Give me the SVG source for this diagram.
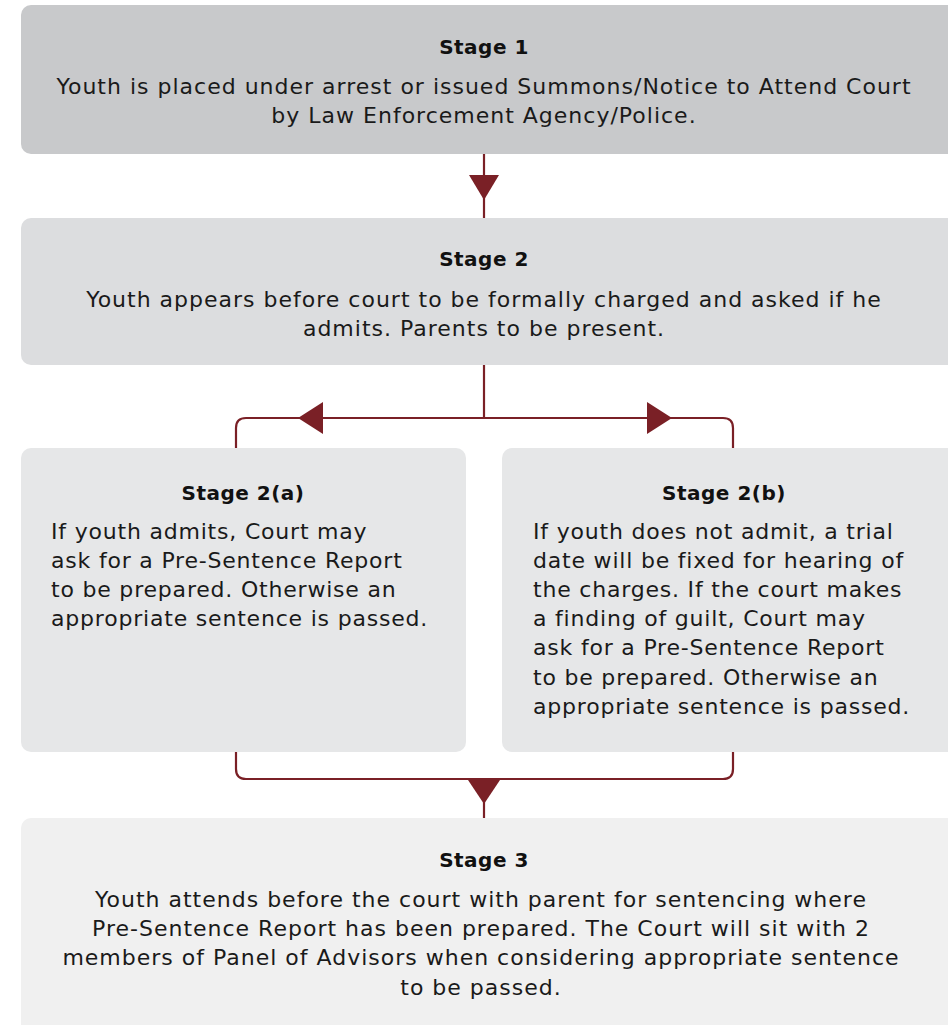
<svg xmlns="http://www.w3.org/2000/svg" width="948" height="1025" viewBox="0 0 948 1025">
  <style>
    .t { font-family: "DejaVu Sans", "Liberation Sans", sans-serif; font-size: 22px; letter-spacing: 1px; fill: #1a1a1a; }
    .l { letter-spacing: 0.8px; }
    .h { font-family: "DejaVu Sans", "Liberation Sans", sans-serif; font-size: 20px; font-weight: bold; letter-spacing: 0.5px; fill: #111; }
    .c { text-anchor: middle; }
    .wire { fill: none; stroke: #7a2026; stroke-width: 2.2; }
    .head { fill: #7a2026; }
  </style>
  <rect width="948" height="1025" fill="#ffffff"/>

  <!-- connectors -->
  <g id="connectors">
    <line class="wire" x1="484" y1="154" x2="484" y2="218"/>
    <polygon class="head" points="469,175 499,175 484,200"/>
    <line class="wire" x1="484" y1="365" x2="484" y2="418"/>
    <path class="wire" d="M236,448 V428 Q236,418 246,418 H723 Q733,418 733,428 V448"/>
    <polygon class="head" points="298,418 323,402 323,434"/>
    <polygon class="head" points="672,418 647,402 647,434"/>
    <path class="wire" d="M236,752 V769 Q236,779 246,779 H723 Q733,779 733,769 V752"/>
    <polygon class="head" points="468,780 500,780 484,804"/>
    <line class="wire" x1="484" y1="800" x2="484" y2="818"/>
  </g>

  <g id="stage1">
    <rect x="21" y="5" width="940" height="149" rx="10" fill="#c8c9cb"/>
    <text class="h c" x="484" y="54">Stage 1</text>
    <text class="t c" x="484" y="94">Youth is placed under arrest or issued Summons/Notice to Attend Court</text>
    <text class="t c" x="484" y="123">by Law Enforcement Agency/Police.</text>
  </g>

  <g id="stage2">
    <rect x="21" y="218" width="940" height="147" rx="10" fill="#dcdddf"/>
    <text class="h c" x="484" y="266">Stage 2</text>
    <text class="t c" x="484" y="307">Youth appears before court to be formally charged and asked if he</text>
    <text class="t c" x="484" y="336">admits. Parents to be present.</text>
  </g>

  <g id="stage2a">
    <rect x="21" y="448" width="445" height="304" rx="10" fill="#e6e7e8"/>
    <text class="h c" x="243" y="500">Stage 2(a)</text>
    <text class="t l" x="51" y="539">If youth admits, Court may</text>
    <text class="t l" x="51" y="568">ask for a Pre-Sentence Report</text>
    <text class="t l" x="51" y="597">to be prepared. Otherwise an</text>
    <text class="t l" x="51" y="626">appropriate sentence is passed.</text>
  </g>

  <g id="stage2b">
    <rect x="502" y="448" width="458" height="304" rx="10" fill="#e6e7e8"/>
    <text class="h c" x="724" y="500">Stage 2(b)</text>
    <text class="t l" x="533" y="539">If youth does not admit, a trial</text>
    <text class="t l" x="533" y="568">date will be fixed for hearing of</text>
    <text class="t l" x="533" y="597">the charges. If the court makes</text>
    <text class="t l" x="533" y="626">a finding of guilt, Court may</text>
    <text class="t l" x="533" y="655">ask for a Pre-Sentence Report</text>
    <text class="t l" x="533" y="685">to be prepared. Otherwise an</text>
    <text class="t l" x="533" y="714">appropriate sentence is passed.</text>
  </g>

  <g id="stage3">
    <rect x="21" y="818" width="940" height="220" rx="10" fill="#f0f0f0"/>
    <text class="h c" x="484" y="867">Stage 3</text>
    <text class="t c" x="481" y="907">Youth attends before the court with parent for sentencing where</text>
    <text class="t c" x="481" y="936">Pre-Sentence Report has been prepared. The Court will sit with 2</text>
    <text class="t c" x="481" y="965">members of Panel of Advisors when considering appropriate sentence</text>
    <text class="t c" x="481" y="995">to be passed.</text>
  </g>
</svg>
